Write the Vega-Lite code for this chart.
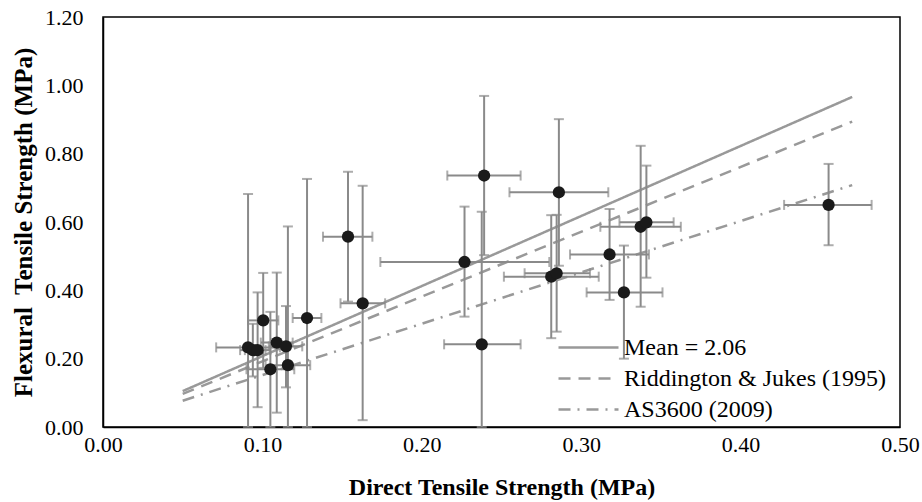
{
  "$schema": "https://vega.github.io/schema/vega-lite/v6.json",
  "width": 797,
  "height": 410,
  "autosize": {"type": "none"},
  "padding": {"left": 103, "top": 17, "right": 22, "bottom": 75},
  "background": "white",
  "config": {
    "view": {"stroke": "#000", "strokeWidth": 1.5},
    "font": "Liberation Serif",
    "axis": {
      "grid": false,
      "ticks": false,
      "labelFlush": false,
      "labelOverlap": false,
      "domainColor": "#000",
      "domainWidth": 1.5,
      "labelFont": "Liberation Serif",
      "labelFontSize": 22,
      "labelColor": "#000",
      "titleFont": "Liberation Serif",
      "titleFontWeight": "bold",
      "titleColor": "#000"
    },
    "axisX": {"labelPadding": 7, "titleFontSize": 24, "titlePadding": 20},
    "axisY": {"labelPadding": 20, "titleFontSize": 25, "titlePadding": 8},
    "legend": {
      "orient": "none",
      "legendX": 454,
      "legendY": 315,
      "padding": 0,
      "title": null,
      "labelFont": "Liberation Serif",
      "labelFontSize": 24,
      "labelColor": "#000",
      "labelOffset": 4,
      "labelLimit": 400,
      "symbolType": "stroke",
      "symbolStrokeColor": "#999999",
      "symbolStrokeWidth": 2.5,
      "symbolSize": 3600,
      "clipHeight": 31,
      "rowPadding": 0
    }
  },
  "datasets": {
    "pts": [
      {"x": 0.091, "y": 0.233, "xlo": 0.071, "xhi": 0.111, "ylo": 0.0, "yhi": 0.682},
      {"x": 0.094, "y": 0.225, "xlo": 0.086, "xhi": 0.102, "ylo": 0.148, "yhi": 0.302},
      {"x": 0.097, "y": 0.225, "xlo": 0.089, "xhi": 0.105, "ylo": 0.058, "yhi": 0.394},
      {"x": 0.1005, "y": 0.312, "xlo": 0.091, "xhi": 0.110, "ylo": 0.173, "yhi": 0.451},
      {"x": 0.109, "y": 0.247, "xlo": 0.099, "xhi": 0.119, "ylo": 0.042, "yhi": 0.452},
      {"x": 0.1148, "y": 0.236, "xlo": 0.104, "xhi": 0.125, "ylo": 0.116, "yhi": 0.354},
      {"x": 0.105, "y": 0.169, "xlo": 0.090, "xhi": 0.120, "ylo": 0.0, "yhi": 0.337},
      {"x": 0.116, "y": 0.181, "xlo": 0.102, "xhi": 0.130, "ylo": 0.0, "yhi": 0.587},
      {"x": 0.128, "y": 0.319, "xlo": 0.119, "xhi": 0.137, "ylo": 0.0, "yhi": 0.726},
      {"x": 0.1537, "y": 0.557, "xlo": 0.138, "xhi": 0.169, "ylo": 0.367, "yhi": 0.747},
      {"x": 0.1629, "y": 0.362, "xlo": 0.149, "xhi": 0.177, "ylo": 0.020, "yhi": 0.706},
      {"x": 0.2268, "y": 0.483, "xlo": 0.174, "xhi": 0.280, "ylo": 0.323, "yhi": 0.645},
      {"x": 0.2391, "y": 0.736, "xlo": 0.216, "xhi": 0.262, "ylo": 0.503, "yhi": 0.969},
      {"x": 0.2376, "y": 0.242, "xlo": 0.214, "xhi": 0.262, "ylo": 0.0, "yhi": 0.630},
      {"x": 0.286, "y": 0.687, "xlo": 0.255, "xhi": 0.317, "ylo": 0.472, "yhi": 0.901},
      {"x": 0.2812, "y": 0.440, "xlo": 0.2515, "xhi": 0.311, "ylo": 0.260, "yhi": 0.620},
      {"x": 0.2846, "y": 0.450, "xlo": 0.2645, "xhi": 0.3055, "ylo": 0.279, "yhi": 0.621},
      {"x": 0.3178, "y": 0.505, "xlo": 0.293, "xhi": 0.3425, "ylo": 0.372, "yhi": 0.638},
      {"x": 0.3268, "y": 0.394, "xlo": 0.3034, "xhi": 0.351, "ylo": 0.20, "yhi": 0.531},
      {"x": 0.3373, "y": 0.586, "xlo": 0.312, "xhi": 0.3625, "ylo": 0.352, "yhi": 0.823},
      {"x": 0.3409, "y": 0.599, "xlo": 0.324, "xhi": 0.358, "ylo": 0.437, "yhi": 0.765},
      {"x": 0.4552, "y": 0.650, "xlo": 0.4273, "xhi": 0.4822, "ylo": 0.532, "yhi": 0.770}
    ],
    "lines": [
      {"series": "Mean = 2.06", "x": 0.05, "y": 0.105},
      {"series": "Mean = 2.06", "x": 0.47, "y": 0.966},
      {"series": "Riddington & Jukes (1995)", "x": 0.05, "y": 0.097},
      {"series": "Riddington & Jukes (1995)", "x": 0.47, "y": 0.894},
      {"series": "AS3600 (2009)", "x": 0.05, "y": 0.077},
      {"series": "AS3600 (2009)", "x": 0.47, "y": 0.708}
    ]
  },
  "layer": [
    {
      "data": {"name": "lines"},
      "mark": {"type": "line", "color": "#999999", "strokeWidth": 2.5, "clip": true},
      "encoding": {
        "x": {"field": "x", "type": "quantitative", "title": "Direct Tensile Strength (MPa)", "scale": {"domain": [0, 0.5], "nice": false},
          "axis": {"values": [0, 0.1, 0.2, 0.3, 0.4, 0.5], "format": ".2f"}},
        "y": {"field": "y", "type": "quantitative", "title": "Flexural\u00a0 Tensile Strength (MPa)", "scale": {"domain": [0, 1.2], "nice": false},
          "axis": {"values": [0, 0.2, 0.4, 0.6, 0.8, 1.0, 1.2], "format": ".2f"}},
        "strokeDash": {"field": "series", "type": "nominal",
          "scale": {"domain": ["Mean = 2.06", "Riddington & Jukes (1995)", "AS3600 (2009)"], "range": [[1, 0], [12, 8], [12, 7, 2, 7]]}}
      }
    },
    {
      "data": {"name": "pts"},
      "mark": {"type": "errorbar", "ticks": true, "color": "#8a8a8a", "thickness": 2, "size": 10},
      "encoding": {
        "x": {"field": "x", "type": "quantitative", "title": "Direct Tensile Strength (MPa)"},
        "y": {"field": "ylo", "type": "quantitative", "title": "Flexural\u00a0 Tensile Strength (MPa)"},
        "y2": {"field": "yhi"}
      }
    },
    {
      "data": {"name": "pts"},
      "mark": {"type": "errorbar", "ticks": true, "color": "#8a8a8a", "thickness": 2, "size": 10},
      "encoding": {
        "y": {"field": "y", "type": "quantitative", "title": "Flexural\u00a0 Tensile Strength (MPa)"},
        "x": {"field": "xlo", "type": "quantitative", "title": "Direct Tensile Strength (MPa)"},
        "x2": {"field": "xhi"}
      }
    },
    {
      "data": {"name": "pts"},
      "mark": {"type": "circle", "color": "#1a1a1a", "opacity": 1, "size": 150},
      "encoding": {
        "x": {"field": "x", "type": "quantitative", "title": "Direct Tensile Strength (MPa)"},
        "y": {"field": "y", "type": "quantitative", "title": "Flexural\u00a0 Tensile Strength (MPa)"}
      }
    }
  ]
}
